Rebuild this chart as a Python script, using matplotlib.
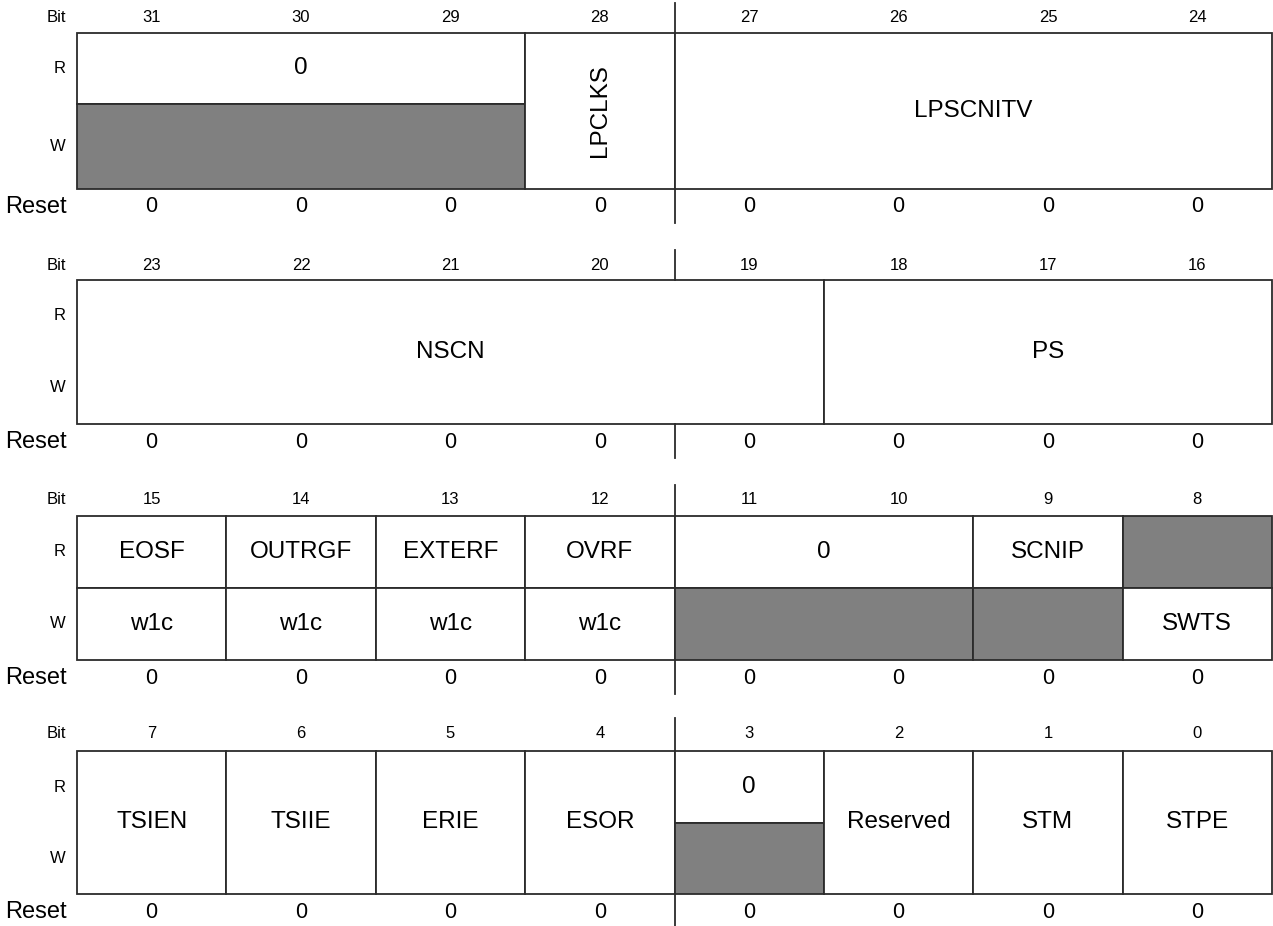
import matplotlib.pyplot as plt
from matplotlib.patches import Rectangle

plt.rcParams['font.family'] = ['Liberation Sans', 'DejaVu Sans']

# register layout data --------------------------------------------------------
block_top_bits = [31, 23, 15, 7]

# (msb, lsb, read text, write text); None = shaded (not accessible),
# 'RW' as write text = one cell over both rows
fields_31_24 = [(31, 29, '0', None), (28, 28, 'LPCLKS', 'RW'), (27, 24, 'LPSCNITV', 'RW')]
fields_23_16 = [(23, 19, 'NSCN', 'RW'), (18, 16, 'PS', 'RW')]
fields_15_8 = [(15, 15, 'EOSF', 'w1c'), (14, 14, 'OUTRGF', 'w1c'), (13, 13, 'EXTERF', 'w1c'),
               (12, 12, 'OVRF', 'w1c'), (11, 10, '0', None), (9, 9, 'SCNIP', None),
               (8, 8, None, 'SWTS')]
fields_7_0 = [(7, 7, 'TSIEN', 'RW'), (6, 6, 'TSIIE', 'RW'), (5, 5, 'ERIE', 'RW'),
              (4, 4, 'ESOR', 'RW'), (3, 3, '0', None), (2, 2, 'Reserved', 'RW'),
              (1, 1, 'STM', 'RW'), (0, 0, 'STPE', 'RW')]
block_fields = [fields_31_24, fields_23_16, fields_15_8, fields_7_0]

reset_values = [0] * 32          # index = bit number
rotated_fields = ['LPCLKS']

# page geometry (pixels) ------------------------------------------------------
x_left, x_right = 77, 1272
cw = (x_right - x_left) / 8
# bit label y, box top, R/W divider, box bottom, reset label y
rows_y = [(18, 33, 104, 189, 207),
          (265, 280, 352, 424, 442),
          (500, 516, 588, 660, 678),
          (733, 751, 823, 894, 912)]

line_c = '#2b2b2b'
grey = '#808080'
lw = 1.3
fs_small = 12
fs_field = 17.5
fs_reset_lbl = 17
fs_reset_val = 15.5

fig = plt.figure(figsize=(12.73, 9.26), dpi=100)
ax = fig.add_axes([0, 0, 1, 1])
ax.set_xlim(0, 1273)
ax.set_ylim(926, 0)
ax.axis('off')


def cell(x, y, w, h, fill):
    ax.add_patch(Rectangle((x, y), w, h, facecolor=grey if fill else 'white',
                           edgecolor=line_c, linewidth=lw, zorder=2))


for tb, fields, (yb, yt, ym, ybot, yr) in zip(block_top_bits, block_fields, rows_y):
    # header and reset labels
    ax.text(66, yb, 'Bit', ha='right', va='center', fontsize=fs_small)
    ax.text(66, (yt + ym) / 2, 'R', ha='right', va='center', fontsize=fs_small)
    ax.text(66, (ym + ybot) / 2, 'W', ha='right', va='center', fontsize=fs_small)
    ax.text(67, yr, 'Reset', ha='right', va='center', fontsize=fs_reset_lbl)
    for i in range(8):
        bit = tb - i
        xc = x_left + (i + 0.5) * cw
        ax.text(xc, yb, str(bit), ha='center', va='center', fontsize=fs_small)
        ax.text(xc, yr, str(reset_values[bit]), ha='center', va='center',
                fontsize=fs_reset_val)

    # nibble separator outside the box
    xs = x_left + 4 * cw
    ax.plot([xs, xs], [yb - 15, yt], color=line_c, lw=lw, zorder=3)
    ax.plot([xs, xs], [ybot, yr + 16], color=line_c, lw=lw, zorder=3)

    for msb, lsb, r_txt, w_txt in fields:
        xa = x_left + (tb - msb) * cw
        wd = (msb - lsb + 1) * cw
        xc = xa + wd / 2
        if w_txt == 'RW':
            cell(xa, yt, wd, ybot - yt, False)
            rot = 90 if r_txt in rotated_fields else 0
            ax.text(xc, (yt + ybot) / 2, r_txt, ha='center', va='center',
                    fontsize=fs_field, rotation=rot, zorder=4)
        else:
            cell(xa, yt, wd, ym - yt, r_txt is None)
            cell(xa, ym, wd, ybot - ym, w_txt is None)
            if r_txt is not None:
                ax.text(xc, (yt + ym) / 2, r_txt, ha='center', va='center',
                        fontsize=fs_field, zorder=4)
            if w_txt is not None:
                ax.text(xc, (ym + ybot) / 2, w_txt, ha='center', va='center',
                        fontsize=fs_field, zorder=4)

fig.savefig('out.png', dpi=100)
